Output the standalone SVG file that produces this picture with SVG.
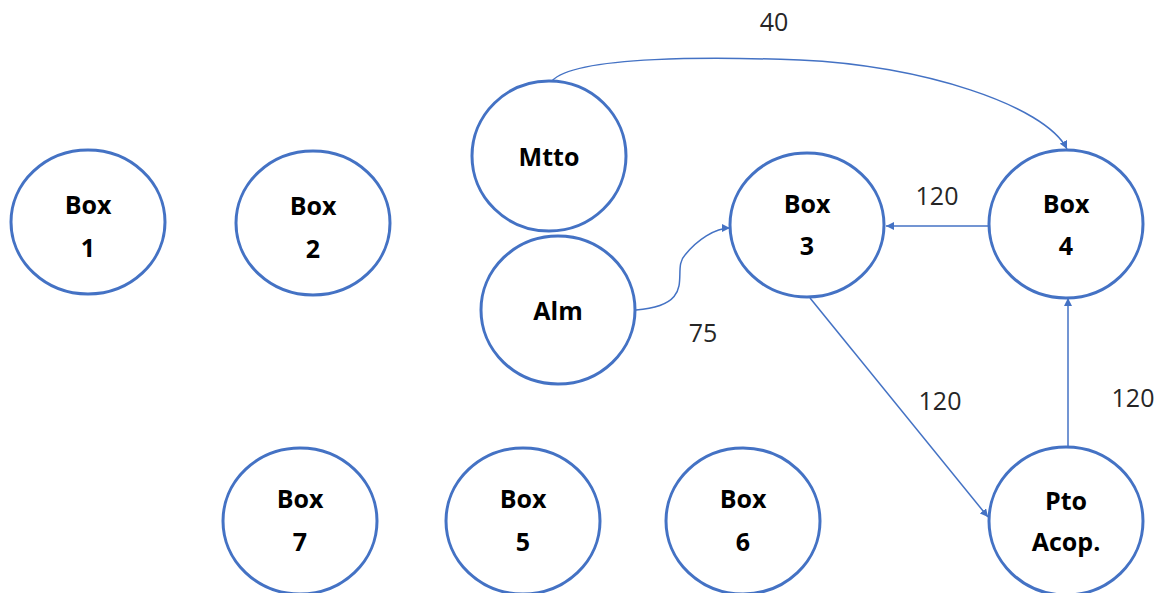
<svg xmlns="http://www.w3.org/2000/svg" width="1165" height="593" viewBox="0 0 1165 593">
  <style>
    .node { fill: #ffffff; stroke: #4472c4; stroke-width: 3; }
    .lbl { font-family: "Open Sans", "Liberation Sans", sans-serif; font-weight: bold; font-size: 25px; fill: #000000; text-anchor: middle; }
    .edge { fill: none; stroke: #4472c4; stroke-width: 1.5; marker-end: url(#arrow); }
    .num { font-family: "Open Sans", "Liberation Sans", sans-serif; font-size: 25px; fill: #262626; text-anchor: middle; }
  </style>
  <defs>
    <marker id="arrow" viewBox="0 0 10 10" refX="10" refY="5" markerWidth="8" markerHeight="8" markerUnits="userSpaceOnUse" orient="auto">
      <path d="M0,0 L10,5 L0,10 z" fill="#4472c4"/>
    </marker>
  </defs>

  <rect width="1165" height="593" fill="#ffffff"/>

  <g id="connectors">
    <path class="edge" d="M552,81 C575,55 720,57 800,60 C920,65 1045,105 1067,149"/>
    <path class="edge" d="M636,310 C700,305 670,270 685,255 C697,240 715,228 730,228"/>
    <path class="edge" d="M988,226 L886,226"/>
    <path class="edge" d="M810,298 L988,517"/>
    <path class="edge" d="M1068,447 L1068,298"/>
  </g>

  <g id="edge-labels">
    <text class="num" x="774" y="31">40</text>
    <text class="num" x="937" y="205">120</text>
    <text class="num" x="703" y="342">75</text>
    <text class="num" x="940" y="410">120</text>
    <text class="num" x="1133" y="407">120</text>
  </g>

  <g id="box1">
    <ellipse class="node" cx="88" cy="222" rx="77" ry="72"/>
    <text class="lbl" x="88" y="214">Box</text>
    <text class="lbl" x="88" y="257">1</text>
  </g>
  <g id="box2">
    <ellipse class="node" cx="313" cy="223" rx="77" ry="72"/>
    <text class="lbl" x="313" y="215">Box</text>
    <text class="lbl" x="313" y="258">2</text>
  </g>
  <g id="mtto">
    <ellipse class="node" cx="549" cy="156" rx="77" ry="75"/>
    <text class="lbl" x="549" y="166">Mtto</text>
  </g>
  <g id="alm">
    <ellipse class="node" cx="558" cy="310" rx="77" ry="74"/>
    <text class="lbl" x="558" y="320">Alm</text>
  </g>
  <g id="box3">
    <ellipse class="node" cx="807" cy="225" rx="77" ry="72"/>
    <text class="lbl" x="807" y="213">Box</text>
    <text class="lbl" x="807" y="255">3</text>
  </g>
  <g id="box4">
    <ellipse class="node" cx="1066" cy="224" rx="77" ry="74"/>
    <text class="lbl" x="1066" y="213">Box</text>
    <text class="lbl" x="1066" y="255">4</text>
  </g>
  <g id="pto-acop">
    <ellipse class="node" cx="1066" cy="521" rx="77" ry="74"/>
    <text class="lbl" x="1066" y="510">Pto</text>
    <text class="lbl" x="1066" y="551">Acop.</text>
  </g>
  <g id="box7">
    <ellipse class="node" cx="300" cy="521" rx="77" ry="73"/>
    <text class="lbl" x="300" y="508">Box</text>
    <text class="lbl" x="300" y="551">7</text>
  </g>
  <g id="box5">
    <ellipse class="node" cx="523" cy="521" rx="77" ry="73"/>
    <text class="lbl" x="523" y="508">Box</text>
    <text class="lbl" x="523" y="551">5</text>
  </g>
  <g id="box6">
    <ellipse class="node" cx="743" cy="521" rx="77" ry="73"/>
    <text class="lbl" x="743" y="508">Box</text>
    <text class="lbl" x="743" y="551">6</text>
  </g>
</svg>
